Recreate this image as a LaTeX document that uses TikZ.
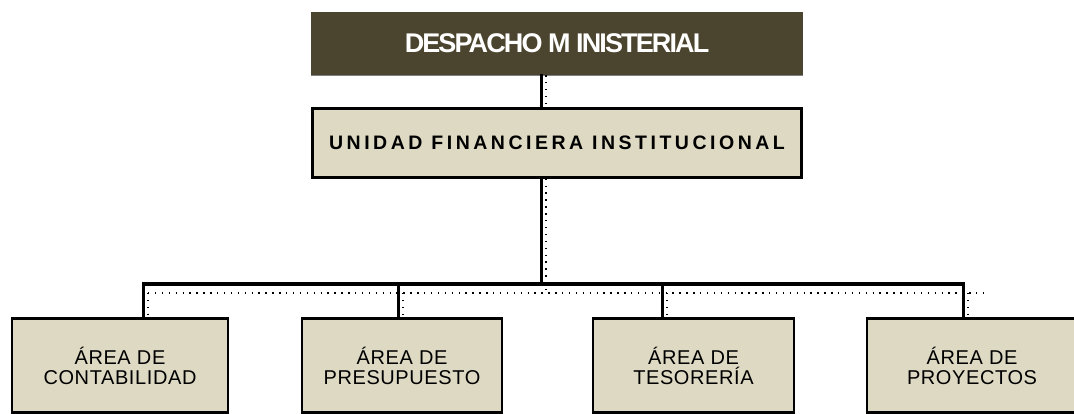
\documentclass[tikz,border=0pt]{standalone}
\usepackage{fontspec}
\setmainfont{Liberation Sans}
\newfontfamily\topfont[LetterSpace=-7]{Liberation Sans}
\newfontfamily\midfont[LetterSpace=18]{Liberation Sans}
\newfontfamily\boxfont[LetterSpace=3]{Liberation Sans}
\definecolor{darkolive}{HTML}{4B442E}
\definecolor{tanfill}{HTML}{DDD9C3}
\begin{document}
\begin{tikzpicture}[x=1pt,y=-1pt,
  topbox/.style={fill=darkolive, draw=none, minimum width=492pt, minimum height=63pt, inner sep=0pt, text=white, font=\topfont\bfseries\fontsize{27}{29}\selectfont},
  midbox/.style={fill=tanfill, draw=black, line width=2.4pt, minimum width=489pt, minimum height=69pt, inner sep=0pt, font=\midfont\bfseries\fontsize{19.5}{22}\selectfont},
  childbox/.style={fill=tanfill, draw=black, line width=2.4pt, minimum height=94pt, inner sep=0pt, align=center, font=\boxfont\fontsize{20}{20}\selectfont},
  conn/.style={line width=3pt, line cap=rect},
  dots/.style={line width=1.4pt, dash pattern=on 1.4pt off 5.5pt}]
\useasboundingbox (0,0) rectangle (1074,414);
\node[topbox] (top) at (557,43.5) {DESPACHO M INISTERIAL};
\draw[gray, line width=0.8pt] (top.south west) -- (top.south east);
\node[midbox] (mid) at (557,143) {UNIDAD FINANCIERA INSTITUCIONAL};
\node[childbox, minimum width=216pt] (c1) at (120,365.5) {ÁREA DE\\CONTABILIDAD};
\node[childbox, minimum width=200pt] (c2) at (402,365.5) {ÁREA DE\\PRESUPUESTO};
\node[childbox, minimum width=201pt] (c3) at (693.5,365.5) {ÁREA DE\\TESORERÍA};
\node[childbox, minimum width=210pt] (c4) at (972,365.5) {ÁREA DE\\PROYECTOS};
\coordinate (bus) at (541,284);
\coordinate (dbus) at (546,293);
% solid connectors
\draw[conn] (top.south -| bus) -- (mid.north -| bus);
\draw[conn] (mid.south -| bus) -- (bus);
\draw[conn] (c1.north -| 143,0) |- (bus);
\draw[conn] (c4.north -| 963,0) |- (bus);
\draw[conn] (c2.north -| 398,0) -- (398,284);
\draw[conn] (c3.north -| 662,0) -- (662,284);
% dotted shadow lines
\draw[dots] (top.south -| 546,0) -- (mid.north -| 546,0);
\draw[dots] (mid.south -| 546,0) -- (dbus);
\draw[dots] (148,293) -- (985,293);
\draw[dots] (148,293) -- (c1.north -| 148,0);
\draw[dots] (403,293) -- (c2.north -| 403,0);
\draw[dots] (667,293) -- (c3.north -| 667,0);
\draw[dots] (968,293) -- (c4.north -| 968,0);
\end{tikzpicture}
\end{document}
